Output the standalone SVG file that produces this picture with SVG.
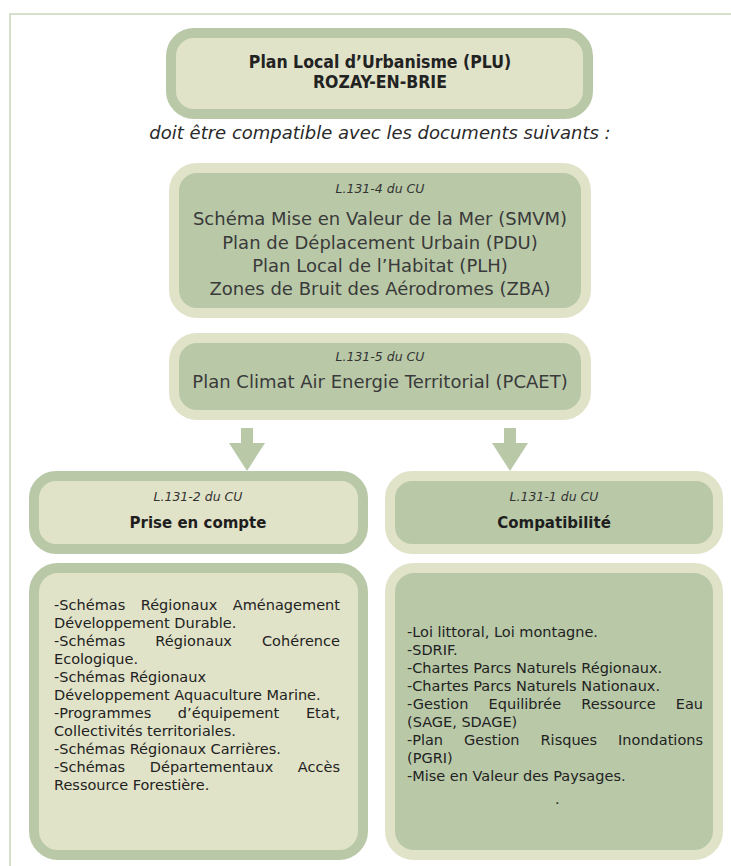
<svg xmlns="http://www.w3.org/2000/svg" width="731" height="866" viewBox="0 0 731 866">
  <style>
    .frame { fill: none; stroke: #c9d8bb; stroke-width: 1.5; }
    .sage { fill: #e1e3c8; stroke: #b9c9a8; stroke-width: 10; }
    .light { fill: #b9c9a8; stroke: #e1e3c8; stroke-width: 10; }
    .arrow { fill: #b9c9a8; }
    text { font-family: "DejaVu Sans", "Liberation Sans", sans-serif; fill: #333333; }
    .title { font-family: "DejaVu Sans Condensed", "DejaVu Sans", sans-serif; font-stretch: condensed; font-weight: bold; font-size: 17.5px; fill: #222222; text-anchor: middle; }
    .intro { font-style: italic; font-size: 18px; text-anchor: middle; fill: #2a2a2a; }
    .ref { font-style: italic; font-size: 12.5px; text-anchor: middle; }
    .big { font-size: 18px; text-anchor: middle; fill: #3a3a3a; }
    .head { font-weight: bold; font-size: 15px; text-anchor: middle; fill: #1e1e1e; }
    .list { font-size: 14.5px; fill: #222222; }
  </style>
  <rect class="frame" x="10" y="14" width="800" height="900"/>
  <g id="plu">
    <rect class="sage" x="171" y="33" width="417" height="81" rx="23"/>
    <text class="title" x="380" y="68">Plan Local d’Urbanisme (PLU)</text>
    <text class="title" x="380" y="88">ROZAY-EN-BRIE</text>
  </g>
  <g id="intro">
    <text class="intro" x="380" y="139">doit être compatible avec les documents suivants :</text>
  </g>
  <g id="l131-4">
    <rect class="light" x="174" y="168" width="412" height="145" rx="23"/>
    <text class="ref" x="380" y="193">L.131-4 du CU</text>
    <text class="big" x="380" y="225">Schéma Mise en Valeur de la Mer (SMVM)</text>
    <text class="big" x="380" y="249">Plan de Déplacement Urbain (PDU)</text>
    <text class="big" x="380" y="272">Plan Local de l’Habitat (PLH)</text>
    <text class="big" x="380" y="295">Zones de Bruit des Aérodromes (ZBA)</text>
  </g>
  <g id="l131-5">
    <rect class="light" x="174" y="338" width="412" height="77" rx="23"/>
    <text class="ref" x="380" y="361">L.131-5 du CU</text>
    <text class="big" x="380" y="388">Plan Climat Air Energie Territorial (PCAET)</text>
  </g>
  <g id="connectors">
    <polygon class="arrow" points="241,428 253,428 253,443 265,443 247,471 229,443 241,443"/>
    <polygon class="arrow" points="504,428 516,428 516,443 528,443 510,471 492,443 504,443"/>
  </g>
  <g id="prise-en-compte">
    <rect class="sage" x="34" y="476" width="329" height="73" rx="22"/>
    <text class="ref" x="198" y="501">L.131-2 du CU</text>
    <text class="head" x="198" y="528">Prise en compte</text>
  </g>
  <g id="compatibilite">
    <rect class="light" x="390" y="476" width="328" height="73" rx="22"/>
    <text class="ref" x="554" y="501">L.131-1 du CU</text>
    <text class="head" x="554" y="528">Compatibilité</text>
  </g>
  <g id="liste-prise-en-compte">
    <rect class="sage" x="34" y="568" width="329" height="287" rx="24"/>
    <text class="list" x="54" y="610" word-spacing="10.8" textLength="286" lengthAdjust="spacing">-Schémas Régionaux Aménagement</text>
    <text class="list" x="54" y="628">Développement Durable.</text>
    <text class="list" x="54" y="646" word-spacing="25.3" textLength="286" lengthAdjust="spacing">-Schémas Régionaux Cohérence</text>
    <text class="list" x="54" y="664">Ecologique.</text>
    <text class="list" x="54" y="682">-Schémas Régionaux</text>
    <text class="list" x="54" y="700">Développement Aquaculture Marine.</text>
    <text class="list" x="54" y="718" word-spacing="22" textLength="286" lengthAdjust="spacing">-Programmes d’équipement Etat,</text>
    <text class="list" x="54" y="736">Collectivités territoriales.</text>
    <text class="list" x="54" y="754">-Schémas Régionaux Carrières.</text>
    <text class="list" x="54" y="772" word-spacing="20" textLength="286" lengthAdjust="spacing">-Schémas Départementaux Accès</text>
    <text class="list" x="54" y="790">Ressource Forestière.</text>
  </g>
  <g id="liste-compatibilite">
    <rect class="light" x="390" y="568" width="328" height="287" rx="24"/>
    <text class="list" x="407" y="637">-Loi littoral, Loi montagne.</text>
    <text class="list" x="407" y="655">-SDRIF.</text>
    <text class="list" x="407" y="673">-Chartes Parcs Naturels Régionaux.</text>
    <text class="list" x="407" y="691">-Chartes Parcs Naturels Nationaux.</text>
    <text class="list" x="407" y="709" word-spacing="15.5" textLength="296" lengthAdjust="spacing">-Gestion Equilibrée Ressource Eau</text>
    <text class="list" x="407" y="727">(SAGE, SDAGE)</text>
    <text class="list" x="407" y="745" word-spacing="16.4" textLength="296" lengthAdjust="spacing">-Plan Gestion Risques Inondations</text>
    <text class="list" x="407" y="763">(PGRI)</text>
    <text class="list" x="407" y="781">-Mise en Valeur des Paysages.</text>
    <text class="list" x="555" y="804">.</text>
  </g>
</svg>
